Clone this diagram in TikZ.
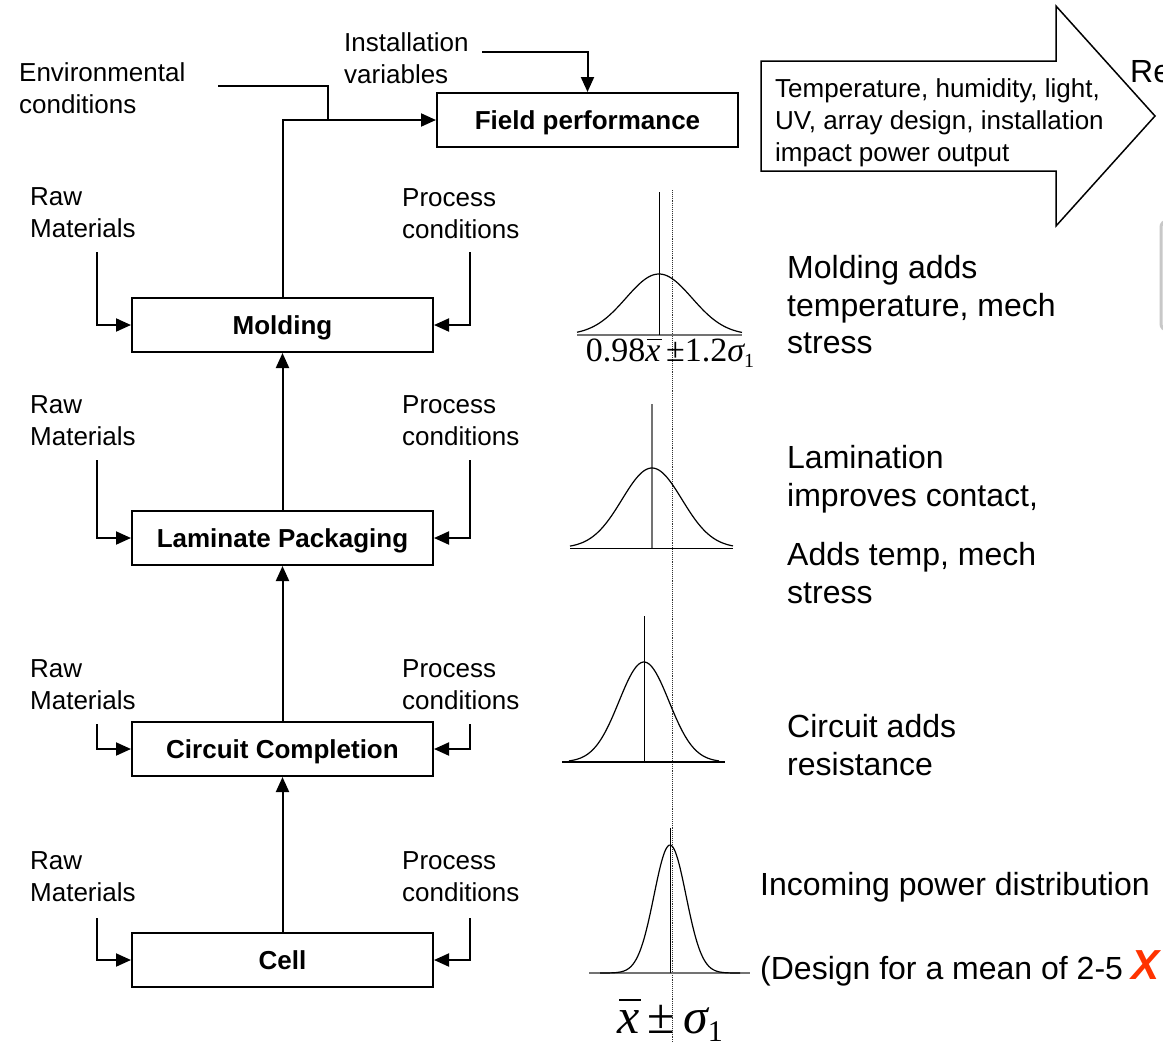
\documentclass[tikz,border=0pt]{standalone}
\usepackage{fontspec}
\setmainfont{Liberation Sans}
\newfontfamily\tms{Liberation Serif}
\usetikzlibrary{arrows.meta}
\definecolor{xred}{RGB}{255,51,0}
\definecolor{edgegray}{RGB}{200,200,200}
\newcommand\xbarsym{\leavevmode\rlap{\kern0.04em\rule[0.64em]{0.44em}{0.045em}}{\itshape x}}
\begin{document}
\begin{tikzpicture}[x=1pt,y=-1pt,
  procbox/.style={draw, line width=2pt, minimum width=301pt, minimum height=54pt, inner sep=0pt,
    text height=18.6pt, text depth=0pt, font=\fontsize{26}{30}\selectfont\bfseries},
  lbl/.style={font=\fontsize{26}{32}\selectfont, align=left, inner sep=0pt, anchor=west},
  biglbl/.style={font=\fontsize{32}{37.5}\selectfont, align=left, inner sep=0pt, anchor=west},
  conn/.style={line width=2pt},
  arr/.style={conn, -{Triangle[length=15pt,width=13pt]}},
  curve/.style={line width=1.2pt},
]
\useasboundingbox (0,0) rectangle (1163,1053);
\clip (0,0) rectangle (1163,1053);
\fill[white] (0,0) rectangle (1163,1053);

% process boxes
\node[procbox] (field) at (587.5,120) {Field performance};
\node[procbox] (mold) at (282.5,325) {Molding};
\node[procbox] (lam) at (282.5,538) {Laminate Packaging};
\node[procbox] (circ) at (282.5,749) {Circuit Completion};
\node[procbox] (cell) at (282.5,960) {Cell};

% labels
\node[lbl] (env) at (19,88) {Environmental\\conditions};
\node[lbl] (inst) at (344,58) {Installation\\variables};
\node[lbl] (raw1) at (30,213) {Raw\\Materials};
\node[lbl] (proc1) at (402,214) {Process\\conditions};
\node[lbl] (raw2) at (30,421) {Raw\\Materials};
\node[lbl] (proc2) at (402,421) {Process\\conditions};
\node[lbl] (raw3) at (30,685) {Raw\\Materials};
\node[lbl] (proc3) at (402,685) {Process\\conditions};
\node[lbl] (raw4) at (30,877) {Raw\\Materials};
\node[lbl] (proc4) at (402,877) {Process\\conditions};

% main flow
\draw[arr] (cell.north) -- (circ.south);
\draw[arr] (circ.north) -- (lam.south);
\draw[arr] (lam.north) -- (mold.south);
\draw[arr] (mold.north) |- (field.west);
\coordinate (envs) at (218,86);
\coordinate (envj) at (328,120);
\draw[conn] (envs) -| (envj);
\coordinate (insts) at (482,52);
\draw[arr] (insts) -| (field.north);

% inputs
\coordinate (r1) at (97,252);  \draw[arr] (r1) |- (mold.west);
\coordinate (p1) at (470,252); \draw[arr] (p1) |- (mold.east);
\coordinate (r2) at (97,460);  \draw[arr] (r2) |- (lam.west);
\coordinate (p2) at (470,460); \draw[arr] (p2) |- (lam.east);
\coordinate (r3) at (97,724);  \draw[arr] (r3) |- (circ.west);
\coordinate (p3) at (470,724); \draw[arr] (p3) |- (circ.east);
\coordinate (r4) at (97,918);  \draw[arr] (r4) |- (cell.west);
\coordinate (p4) at (470,918); \draw[arr] (p4) |- (cell.east);

% big arrow
\draw[line width=1.5pt] (761,61) -- (1056,61) -- (1056,6) -- (1155,116) -- (1056,226) -- (1056,171) -- (761,171) -- cycle;
\node[lbl] (arrtxt) at (775,123) {Temperature, humidity, light,\\UV, array design, installation\\impact power output};
\node[biglbl] (re) at (1130,72) {Re};
\draw[edgegray, line width=3pt, rounded corners=6pt] (1161,221) rectangle (1220,330);

% dotted reference line
\draw[densely dotted, line width=0.9pt, black!80] (672,190) -- (672,1042);

% distributions
% molding
\draw[line width=2pt, black!55] (577,335) -- (742,335);
\draw[line width=1pt] (659,192) -- (659,335);
\draw[curve] plot[domain=-82:83, samples=80, smooth] ({659+\x},{335-61*exp(-(\x*\x)/(2*33*33))});
\node[inner sep=0pt, font=\tms\fontsize{34}{34}\selectfont] (mlab) at (670,353)
  {0.98\xbarsym\,±1.2{\itshape σ}\raisebox{-0.35ex}{\fontsize{20}{20}\selectfont 1}};
% laminate
\draw[line width=1pt] (570,548) -- (733,548);
\draw[line width=1.8pt, black!55] (652,404) -- (652,548);
\draw[curve] plot[domain=-82:81, samples=80, smooth] ({652+\x},{548-80*exp(-(\x*\x)/(2*30*30))});
% circuit
\draw[line width=1.2pt] (562,762) -- (725,762);
\draw[line width=1pt] (644,616) -- (644,762);
\draw[curve] plot[domain=-75:75, samples=80, smooth] ({644+\x},{762-100*exp(-(\x*\x)/(2*25*25))});
% cell
\draw[line width=1.5pt, black!55] (589,973) -- (750,973);
\draw[line width=1pt] (670,828) -- (670,973);
\draw[curve] plot[domain=-70:70, samples=90, smooth] ({670+\x},{973-128*exp(-(\x*\x)/(2*16*16))});
\node[inner sep=0pt, font=\tms\fontsize{50}{50}\selectfont] (clab) at (670,1020)
  {\xbarsym\,±\,{\itshape σ}\raisebox{-0.35ex}{\fontsize{30}{30}\selectfont 1}};

% right-hand notes
\node[biglbl] (mtxt) at (787,305) {Molding adds\\temperature, mech\\stress};
\node[biglbl] (ltxt1) at (787,479) {Lamination\\improves contact,};
\node[biglbl] (ltxt2) at (787,573) {Adds temp, mech\\stress};
\node[biglbl] (ctxt) at (787,745) {Circuit adds\\resistance};
\node[biglbl] (itxt) at (760,887) {Incoming power distribution};
\node[biglbl] (dtxt) at (760,968) {(Design for a mean of 2-5 \textcolor{xred}{\fontsize{42}{42}\selectfont\bfseries\itshape X}};
\end{tikzpicture}
\end{document}
